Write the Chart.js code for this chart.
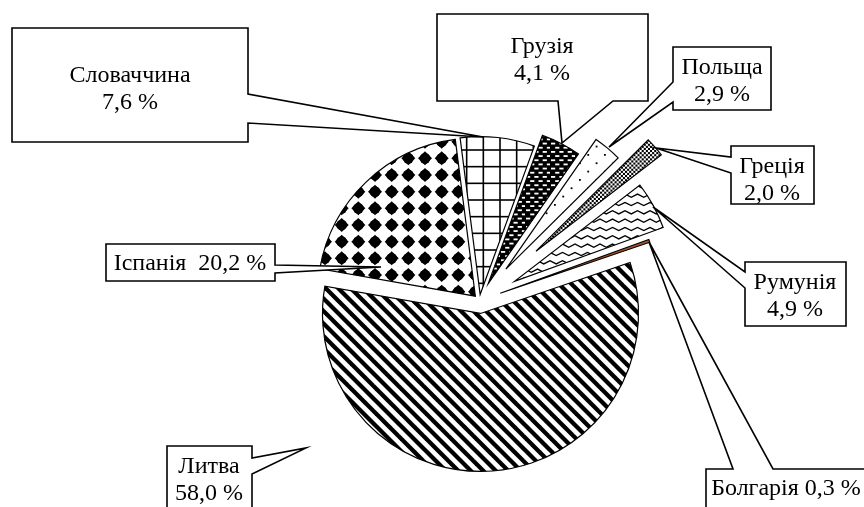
<!DOCTYPE html>
<html>
<head>
<meta charset="utf-8">
<script src="https://cdn.jsdelivr.net/npm/chart.js@4"></script>
<style>
  html, body { margin: 0; padding: 0; background: #fff; }
  #wrap { width: 864px; height: 507px; }
</style>
</head>
<body>
<div id="wrap"><canvas id="pie" width="864" height="507"></canvas></div>
<script>
// shares of each country, clockwise from the top
const countries = ['Словаччина', 'Грузія', 'Польща', 'Греція', 'Румунія', 'Болгарія', 'Литва', 'Іспанія'];
const shares = [7.6, 4.1, 2.9, 2.0, 4.9, 0.3, 58.0, 20.2];

// how far each slice is pulled out of the pie (px)
const explode = [6, 19, 41, 75, 40, 22, 13, 6];

// callout boxes: rectangle, side with the pointer, gap on that side, pointer tip, text anchor
const callouts = [
  { box: [12, 28, 248, 142], side: 'right', gap: [94, 123], tip: [483, 137], text: [130, 82], oneLine: false },
  { box: [437, 14, 648, 101], side: 'bottom', gap: [558, 613], tip: [562, 143], text: [542, 53], oneLine: false },
  { box: [673, 47, 771, 110], side: 'left', gap: [82, 102], tip: [609, 147], text: [722, 74], oneLine: false },
  { box: [731, 146, 814, 204], side: 'left', gap: [157, 173], tip: [656, 148], text: [772, 173], oneLine: false },
  { box: [745, 262, 846, 326], side: 'left', gap: [272, 288], tip: [653, 207], text: [795, 289], oneLine: false },
  { box: [706, 469, 868, 530], side: 'top', gap: [733, 773], tip: [649, 242], text: [786, 495], oneLine: true, sep: ' ' },
  { box: [167, 446, 252, 530], side: 'right', gap: [458, 474], tip: [306, 448], text: [209, 473], oneLine: false },
  { box: [106, 244, 275, 281], side: 'right', gap: [265, 273], tip: [381, 267], text: [190, 270], oneLine: true, sep: '  ' },
];

const canvas = document.getElementById('pie');
const ctx = canvas.getContext('2d');

function tile(w, h, paint) {
  const c = document.createElement('canvas');
  c.width = w;
  c.height = h;
  const g = c.getContext('2d');
  g.fillStyle = '#fff';
  g.fillRect(0, 0, w, h);
  g.fillStyle = '#000';
  g.strokeStyle = '#000';
  paint(g, w, h);
  return ctx.createPattern(c, 'repeat');
}

const step = 50 / 3;

const gridFill = tile(50, 50, (g) => {
  for (let k = 0; k <= 3; k++) {
    g.fillRect(k * step - 0.8, 0, 1.6, 50);
    g.fillRect(0, k * step - 0.8, 50, 1.6);
  }
});

const dashFill = tile(25, 25, (g) => {
  g.fillRect(0, 0, 25, 25);
  g.fillStyle = '#fff';
  const p = 25 / 3;
  for (let i = 0; i < 3; i++) {
    for (let j = 0; j < 3; j++) {
      g.fillRect(i * p + 1, j * p + 1, 4.2, 1.8);
      g.fillRect(i * p + 1 + p / 2, j * p + 1 + p / 2, 4.2, 1.8);
    }
  }
});

const dotFill = tile(50, 50, (g) => {
  for (let i = 0; i < 3; i++) {
    for (let j = 0; j < 3; j++) {
      g.fillRect(i * step + 4, j * step + 4, 1.8, 1.8);
      g.fillRect(i * step + 4 + step / 2, j * step + 4 + step / 2, 1.8, 1.8);
    }
  }
});

const checkFill = tile(25, 25, (g) => {
  const c = 25 / 12;
  for (let i = 0; i < 12; i++) {
    for (let j = 0; j < 12; j++) {
      if ((i + j) % 2 === 0) g.fillRect(i * c, j * c, c, c);
    }
  }
});

const waveFill = tile(25, 25, (g) => {
  g.lineWidth = 1.3;
  const p = 25 / 3;
  for (let r = 0; r < 3; r++) {
    const y0 = r * p + 4;
    g.beginPath();
    for (let k = -1; k <= 5; k++) {
      const x = k * 6.25;
      const y = y0 + (k % 2 === 0 ? -1.6 : 1.6);
      if (k === -1) g.moveTo(x, y); else g.lineTo(x, y);
    }
    g.stroke();
  }
});

const stripeFill = tile(25, 25, (g) => {
  g.lineWidth = 4.3;
  for (let c = -37.5; c <= 37.5; c += 12.5) {
    g.beginPath();
    g.moveTo(-6, -6 + c);
    g.lineTo(31, 31 + c);
    g.stroke();
  }
});

const blobFill = tile(50, 50, (g) => {
  for (let i = 0; i < 3; i++) {
    for (let j = 0; j < 3; j++) {
      const x = i * step + step / 2;
      const y = j * step + step / 2;
      g.beginPath();
      g.moveTo(x, y - 7);
      g.lineTo(x + 7, y);
      g.lineTo(x, y + 7);
      g.lineTo(x - 7, y);
      g.closePath();
      g.fill();
      g.beginPath();
      g.arc(x, y, 5.4, 0, Math.PI * 2);
      g.fill();
    }
  }
});

const fills = [gridFill, dashFill, dotFill, checkFill, waveFill, '#a5542a', stripeFill, blobFill];

const explodePlugin = {
  id: 'explode',
  afterDatasetsUpdate(chart) {
    chart.getDatasetMeta(0).data.forEach((arc, i) => {
      const mid = (arc.startAngle + arc.endAngle) / 2;
      arc.x += Math.cos(mid) * explode[i];
      arc.y += Math.sin(mid) * explode[i];
    });
  }
};

const fmt = (v) => v.toFixed(1).replace('.', ',') + ' %';

const calloutPlugin = {
  id: 'callouts',
  afterDatasetsDraw(chart) {
    const g = chart.ctx;
    g.save();
    callouts.forEach((c, i) => {
      const [x0, y0, x1, y1] = c.box;
      const [g0, g1] = c.gap;
      const [tx, ty] = c.tip;
      g.beginPath();
      if (c.side === 'right') {
        g.moveTo(x0, y0); g.lineTo(x1, y0); g.lineTo(x1, g0); g.lineTo(tx, ty);
        g.lineTo(x1, g1); g.lineTo(x1, y1); g.lineTo(x0, y1);
      } else if (c.side === 'bottom') {
        g.moveTo(x0, y0); g.lineTo(x1, y0); g.lineTo(x1, y1); g.lineTo(g1, y1);
        g.lineTo(tx, ty); g.lineTo(g0, y1); g.lineTo(x0, y1);
      } else if (c.side === 'left') {
        g.moveTo(x0, y0); g.lineTo(x1, y0); g.lineTo(x1, y1); g.lineTo(x0, y1);
        g.lineTo(x0, g1); g.lineTo(tx, ty); g.lineTo(x0, g0);
      } else {
        g.moveTo(x0, y0); g.lineTo(g0, y0); g.lineTo(tx, ty); g.lineTo(g1, y0);
        g.lineTo(x1, y0); g.lineTo(x1, y1); g.lineTo(x0, y1);
      }
      g.closePath();
      g.fillStyle = '#fff';
      g.fill();
      g.lineWidth = 1.6;
      g.lineJoin = 'miter';
      g.strokeStyle = '#000';
      g.stroke();

      g.fillStyle = '#000';
      g.font = '24px "Liberation Serif", "Times New Roman", serif';
      g.textAlign = 'center';
      g.textBaseline = 'alphabetic';
      const label = chart.data.labels[i];
      const value = fmt(chart.data.datasets[0].data[i]);
      if (c.oneLine) {
        g.fillText(label + c.sep + value, c.text[0], c.text[1]);
      } else {
        g.fillText(label, c.text[0], c.text[1]);
        g.fillText(value, c.text[0], c.text[1] + 27);
      }
    });
    g.restore();
  }
};

new Chart(ctx, {
  type: 'pie',
  data: {
    labels: countries,
    datasets: [{
      data: shares,
      backgroundColor: fills,
      borderColor: '#000',
      borderWidth: 1.2,
      borderJoinStyle: 'miter',
      radius: 158,
      clip: false,
    }],
  },
  options: {
    responsive: false,
    animation: false,
    events: [],
    rotation: -7.3,
    layout: { padding: { left: 95, right: 0, top: 94, bottom: 0 } },
    plugins: {
      legend: { display: false },
      tooltip: { enabled: false },
    },
  },
  plugins: [explodePlugin, calloutPlugin],
});
</script>
</body>
</html>
